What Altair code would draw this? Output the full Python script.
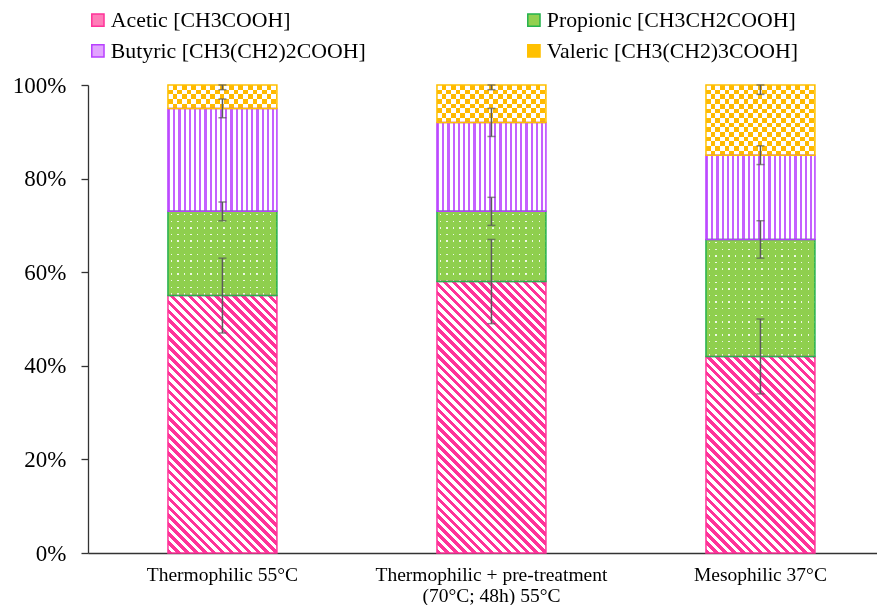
import math
import altair as alt
import pandas as pd

# ---------------- data ----------------
conditions = [
    "Thermophilic 55°C",
    "Thermophilic + pre-treatment|(70°C; 48h) 55°C",
    "Mesophilic 37°C",
]
acids = [
    "Acetic [CH3COOH]",
    "Propionic [CH3CH2COOH]",
    "Butyric [CH3(CH2)2COOH]",
    "Valeric [CH3(CH2)3COOH]",
]
acetic = [55, 58, 42]
propionic = [18, 15, 25]
butyric = [22, 19, 18]
valeric = [5, 8, 15]

acetic_err = [8, 9, 8]
propionic_err = [2, 3, 4]
butyric_err = [2, 3, 2]
valeric_err = [1, 1, 2]

y_ticks = [0, 20, 40, 60, 80, 100]

# ---------------- styles ----------------
legend_fill = ["#FF7DB8", "#92D050", "#E2A4FF", "#FFC000"]
edge_colors = ["#FF3399", "#25B24E", "#B840FF", "#FFC000"]
PINK = "#FF3399"
PURPLE = "#C560FF"
ORANGE = "#FFBA00"
GREEN = "#8FCF4E"
FONT = "Liberation Serif"
AXIS_COLOR = "#333333"
ERR_COLOR = "#5A5A5A"

values = [acetic, propionic, butyric, valeric]
errors = [acetic_err, propionic_err, butyric_err, valeric_err]

rows = []
for a_i, acid in enumerate(acids):
    for c_i, cond in enumerate(conditions):
        rows.append(dict(cond=cond, acid=acid, ord=a_i,
                         value=values[a_i][c_i], err=errors[a_i][c_i]))
df = pd.DataFrame(rows)

# legend is laid out column by column: order the domain so rows read
# Acetic | Propionic  /  Butyric | Valeric
leg_idx = [0, 2, 1, 3]
leg_domain = [acids[i] for i in leg_idx]
leg_fill_range = [legend_fill[i] for i in leg_idx]
leg_edge_range = [edge_colors[i] for i in leg_idx]

# ---------------- layout ----------------
W, H = 789, 468
P_IN, P_OUT, ALIGN = 0.595, 0.264, 0.563
STEP = W / (len(conditions) - P_IN + 2 * P_OUT)
BW = STEP * (1 - P_IN)


def stripe_stops(n_periods, parts):
    stops = []
    per = 1.0 / max(n_periods, 0.5)
    t = 0.0
    while t < 1 - 1e-9:
        pos = t
        for color, frac in parts:
            s = min(pos, 1.0)
            e = min(pos + frac * per, 1.0)
            stops.append(alt.GradientStop(offset=round(s, 5), color=color))
            stops.append(alt.GradientStop(offset=round(e, 5), color=color))
            pos += frac * per
        t += per
    return stops


def lin(x1, y1, x2, y2, stops):
    return alt.LinearGradient(gradient="linear", stops=stops,
                              x1=x1, y1=y1, x2=x2, y2=y2)


x_enc = alt.X(
    "cond:N", sort=conditions,
    scale=alt.Scale(paddingInner=P_IN, paddingOuter=P_OUT, align=ALIGN),
    axis=alt.Axis(title=None, labelAngle=0, ticks=False, domainColor=AXIS_COLOR,
                  domainWidth=1.3, labelFont=FONT, labelFontSize=19.5, labelColor="#000",
                  labelPadding=12, labelLineHeight=21, labelLimit=400,
                  labelExpr="split(datum.label, '|')"),
)
y_enc = alt.Y(
    "y0:Q", scale=alt.Scale(domain=[0, 100]),
    axis=alt.Axis(title=None, values=y_ticks, grid=False, tickSize=7, tickColor=AXIS_COLOR,
                  domainColor=AXIS_COLOR, domainWidth=1.3, tickWidth=1.3,
                  labelFont=FONT, labelFontSize=23, labelColor="#000",
                  labelPadding=15, labelExpr="datum.value + '%'"),
)

base = alt.Chart(df).transform_stack(
    stack="value", groupby=["cond"], as_=["y0", "y1"],
    sort=[alt.SortField("ord", order="ascending")],
)

leg = alt.Legend(
    title=None, orient="none", legendX=-1, legendY=-76, columns=2,
    columnPadding=157, rowPadding=8, labelFont=FONT, labelFontSize=21.8,
    labelColor="#000", symbolType="square", symbolSize=150, symbolStrokeWidth=1.5,
    labelOffset=2, labelLimit=400, padding=0,
)

legend_layer = base.mark_bar(strokeWidth=0).encode(
    x=x_enc, y=y_enc, y2="y1:Q",
    fill=alt.Fill("acid:N", scale=alt.Scale(domain=leg_domain, range=leg_fill_range), legend=leg),
    stroke=alt.Stroke("acid:N", scale=alt.Scale(domain=leg_domain, range=leg_edge_range), legend=leg),
)

layers = [legend_layer]
BLACK, WHITE = "#000000", "#FFFFFF"

for a_i, acid in enumerate(acids):
    for c_i, cond in enumerate(conditions):
        seg = base.transform_filter(
            alt.FieldEqualPredicate(field="cond", equal=cond)
        ).transform_filter(
            alt.FieldEqualPredicate(field="acid", equal=acid)
        )
        enc = dict(x=x_enc, y=y_enc, y2="y1:Q")
        w = BW
        h = values[a_i][c_i] / 100.0 * H
        if a_i == 0:  # diagonal hatch
            k = (w + h) / (w * w + h * h)
            L = (w + h) / math.sqrt(2)
            g = lin(0, 1, k * w, 1 - k * h,
                    stripe_stops(L / 6.3, [(PINK, 0.5), (WHITE, 0.5)]))
            layers.append(seg.mark_bar(fill=g, strokeWidth=0).encode(**enc))
        elif a_i == 1:  # small dots
            g1 = lin(0, 0, 1, 0, stripe_stops(w / 6.6, [(BLACK, 0.39), ("#D8D8D8", 0.22), (BLACK, 0.39)]))
            g2 = lin(0, 0, 0, 1, stripe_stops(h / 6.6, [(BLACK, 0.39), (WHITE, 0.22), (BLACK, 0.39)]))
            layers.append(seg.mark_bar(fill=g1, strokeWidth=0).encode(**enc))
            layers.append(seg.mark_bar(fill=g2, strokeWidth=0, blend="multiply").encode(**enc))
            layers.append(seg.mark_bar(fill=GREEN, strokeWidth=0, blend="screen").encode(**enc))
        elif a_i == 2:  # vertical lines
            g = lin(0, 0, 1, 0, stripe_stops(w / 5.2, [(PURPLE, 0.42), (WHITE, 0.58)]))
            layers.append(seg.mark_bar(fill=g, strokeWidth=0).encode(**enc))
        else:  # checkerboard
            g1 = lin(0, 0, 1, 0, stripe_stops(w / 9.4, [(BLACK, 0.5), (WHITE, 0.5)]))
            g2 = lin(0, 0, 0, 1, stripe_stops(h / 9.4, [(WHITE, 0.5), (BLACK, 0.5)]))
            layers.append(seg.mark_bar(fill=g1, strokeWidth=0).encode(**enc))
            layers.append(seg.mark_bar(fill=g2, strokeWidth=0, blend="difference").encode(**enc))
            layers.append(seg.mark_bar(fill=ORANGE, strokeWidth=0, blend="screen").encode(**enc))

# outlines
for a_i, acid in enumerate(acids):
    layers.append(
        base.transform_filter(alt.FieldEqualPredicate(field="acid", equal=acid))
        .mark_bar(fillOpacity=0, stroke=edge_colors[a_i], strokeWidth=1.5)
        .encode(x=x_enc, y=y_enc, y2="y1:Q")
    )

# error bars
err_base = base.transform_calculate(
    lo="datum.y1 - datum.err",
    hi="min(datum.y1 + datum.err, 100)",
)
layers.append(err_base.mark_rule(color=ERR_COLOR, strokeWidth=1.5).encode(
    x=x_enc, y=alt.Y("lo:Q"), y2="hi:Q"))
layers.append(err_base.mark_tick(color=ERR_COLOR, size=8, thickness=1.5).encode(
    x=x_enc, y=alt.Y("lo:Q")))
layers.append(err_base.mark_tick(color=ERR_COLOR, size=8, thickness=1.5).encode(
    x=x_enc, y=alt.Y("hi:Q")))

chart = alt.layer(*layers).properties(
    width=W, height=H,
    autosize=alt.AutoSizeParams(type="none"),
    padding={"left": 80, "top": 77, "right": 0, "bottom": 52},
    background="white",
).configure_view(stroke=None)

chart.save("out.html", embed_options={"renderer": "svg", "actions": False})
